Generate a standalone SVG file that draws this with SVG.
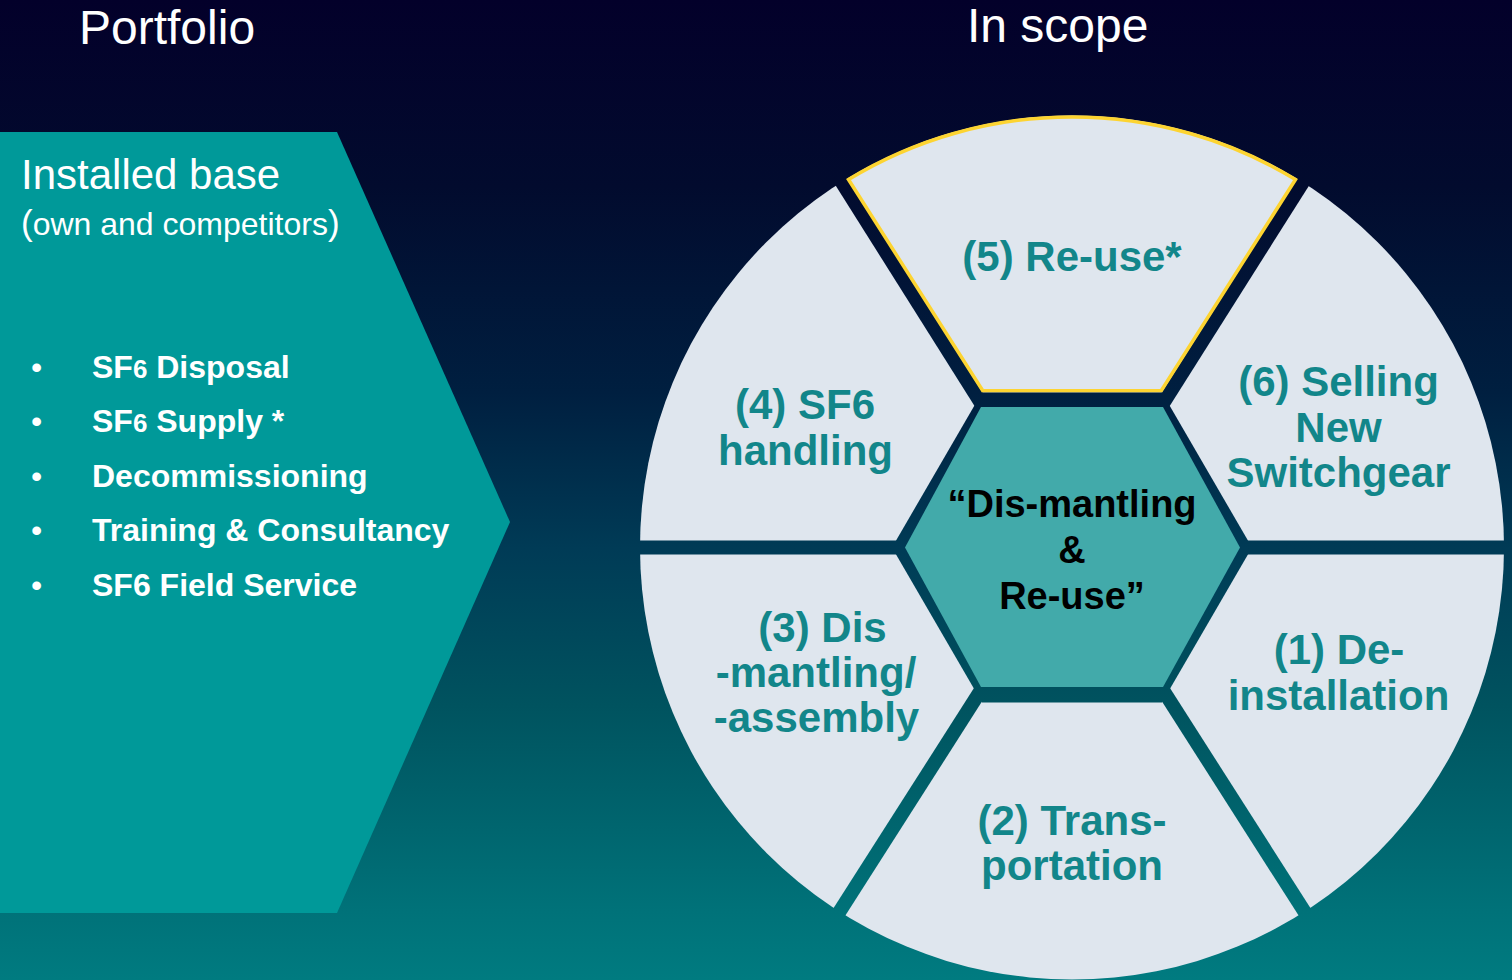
<svg xmlns="http://www.w3.org/2000/svg" width="1512" height="980" viewBox="0 0 1512 980">
  <defs>
    <linearGradient id="bg" gradientUnits="userSpaceOnUse" x1="0" y1="0" x2="0" y2="980">
      <stop offset="0" stop-color="#03002a"/>
      <stop offset="0.19" stop-color="#020b2e"/>
      <stop offset="0.4" stop-color="#001f40"/>
      <stop offset="0.56" stop-color="#003b56"/>
      <stop offset="0.72" stop-color="#00535f"/>
      <stop offset="0.93" stop-color="#007279"/>
      <stop offset="1" stop-color="#007b80"/>
    </linearGradient>
    <style>
      .title { font-family: "Liberation Sans", Arial, sans-serif; font-size: 48px; fill: #ffffff; }
      .head { font-family: "Liberation Sans", Arial, sans-serif; font-size: 42px; fill: #ffffff; }
      .sub { font-family: "Liberation Sans", Arial, sans-serif; font-size: 32px; fill: #ffffff; }
      .item { font-family: "Liberation Sans", Arial, sans-serif; font-size: 32px; font-weight: bold; fill: #ffffff; }
      .bullet { font-family: "Liberation Sans", Arial, sans-serif; font-size: 32px; fill: #ffffff; }
      .seg { font-family: "Liberation Sans", Arial, sans-serif; font-size: 42px; font-weight: bold; fill: #12868a; text-anchor: middle; }
      .core { font-family: "Liberation Sans", Arial, sans-serif; font-size: 38px; font-weight: bold; fill: #000000; text-anchor: middle; }
      .div { stroke: url(#bg); stroke-width: 14; fill: none; }
    </style>
  </defs>

  <rect x="0" y="0" width="1512" height="980" fill="url(#bg)"/>

  <text class="title" x="79" y="44">Portfolio</text>
  <text class="title" x="967" y="42">In scope</text>

  <g id="portfolio">
    <polygon points="0,132 337,132 510,522 337,913 0,913" fill="#009999"/>
    <text class="head" x="21" y="189">Installed base</text>
    <text class="sub" x="21" y="235"><tspan font-size="35">(</tspan>own and competitors<tspan font-size="35">)</tspan></text>
    <text class="bullet" x="31" y="378">•</text>
    <text class="item" x="92" y="378">SF<tspan font-size="26">6</tspan> Disposal</text>
    <text class="bullet" x="31" y="432">•</text>
    <text class="item" x="92" y="432">SF<tspan font-size="26">6</tspan> Supply *</text>
    <text class="bullet" x="31" y="487">•</text>
    <text class="item" x="92" y="487">Decommissioning</text>
    <text class="bullet" x="31" y="541">•</text>
    <text class="item" x="92" y="541">Training &amp; Consultancy</text>
    <text class="bullet" x="31" y="596">•</text>
    <text class="item" x="92" y="596">SF6 Field Service</text>
  </g>

  <g id="wheel">
    <circle cx="1072" cy="547.5" r="432" fill="#dfe6ee"/>
  </g>

  <g id="dividers">
    <line class="div" x1="1072" y1="547.5" x2="834.6" y2="170.8"/>
    <line class="div" x1="1072" y1="547.5" x2="1309.7" y2="171.4"/>
    <line class="div" x1="1072" y1="547.5" x2="832.6" y2="922.6"/>
    <line class="div" x1="1072" y1="547.5" x2="1311.4" y2="922.6"/>
    <line class="div" x1="630" y1="547.5" x2="1514" y2="547.5"/>
  </g>

  <g id="sector-5">
    <path d="M848.5,179.5 A430.5,430.5 0 0 1 1295.5,179.5 L1161.2,390.8 L982.8,390.8 Z" fill="none" stroke="#fdd431" stroke-width="3.5" stroke-linejoin="miter"/>
    <text class="seg" x="1072" y="271">(5) Re-use*</text>
  </g>

  <g id="sector-6">
    <text class="seg" x="1338.5" y="396">(6) Selling</text>
    <text class="seg" x="1338.5" y="442">New</text>
    <text class="seg" x="1338.5" y="487">Switchgear</text>
  </g>

  <g id="sector-1">
    <text class="seg" x="1339" y="664">(1) De-</text>
    <text class="seg" x="1338.5" y="710">installation</text>
  </g>

  <g id="sector-2">
    <text class="seg" x="1072" y="835">(2) Trans-</text>
    <text class="seg" x="1072" y="880">portation</text>
  </g>

  <g id="sector-3">
    <text class="seg" x="822.5" y="642">(3) Dis</text>
    <text class="seg" x="816" y="687">-mantling/</text>
    <text class="seg" x="816.5" y="732">-assembly</text>
  </g>

  <g id="sector-4">
    <text class="seg" x="805" y="419">(4) SF6</text>
    <text class="seg" x="805.5" y="465">handling</text>
  </g>

  <g id="core">
    <polygon points="892,547.5 982,392.5 1162,392.5 1252,547.5 1162,702.5 982,702.5" fill="url(#bg)"/>
    <polygon points="905,547.5 981,407 1163,407 1240,547.5 1163,687 981,687" fill="#42aaaa"/>
    <text class="core" x="1072" y="517">“Dis-mantling</text>
    <text class="core" x="1072" y="563">&amp;</text>
    <text class="core" x="1072" y="609">Re-use”</text>
  </g>
</svg>
